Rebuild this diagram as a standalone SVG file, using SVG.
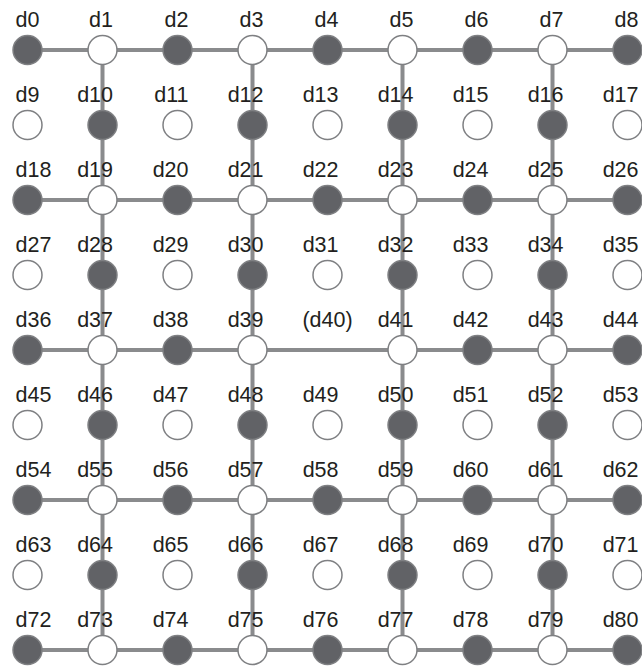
<svg xmlns="http://www.w3.org/2000/svg" width="642" height="668" viewBox="0 0 642 668">
<style>
.c line{stroke:#8a8b8d;stroke-width:4}
.f{fill:#616266;stroke:#7f8083;stroke-width:1.5}
.e{fill:#ffffff;stroke:#7f8083;stroke-width:1.5}
text{font-family:"Liberation Sans",Arial,sans-serif;font-size:21.5px;fill:#231f20}
.l{text-anchor:start}
.r{text-anchor:end}
.m{text-anchor:middle}
</style>
<rect width="642" height="668" fill="#ffffff"/>
<g id="connectors" class="c">
<line x1="27.5" y1="50" x2="102.5" y2="50"/><line x1="102.5" y1="50" x2="177.5" y2="50"/><line x1="177.5" y1="50" x2="252.5" y2="50"/><line x1="252.5" y1="50" x2="327.5" y2="50"/><line x1="327.5" y1="50" x2="402.5" y2="50"/><line x1="402.5" y1="50" x2="477.5" y2="50"/><line x1="477.5" y1="50" x2="552.5" y2="50"/><line x1="552.5" y1="50" x2="627.5" y2="50"/>
<line x1="27.5" y1="200" x2="102.5" y2="200"/><line x1="102.5" y1="200" x2="177.5" y2="200"/><line x1="177.5" y1="200" x2="252.5" y2="200"/><line x1="252.5" y1="200" x2="327.5" y2="200"/><line x1="327.5" y1="200" x2="402.5" y2="200"/><line x1="402.5" y1="200" x2="477.5" y2="200"/><line x1="477.5" y1="200" x2="552.5" y2="200"/><line x1="552.5" y1="200" x2="627.5" y2="200"/>
<line x1="27.5" y1="350" x2="102.5" y2="350"/><line x1="102.5" y1="350" x2="177.5" y2="350"/><line x1="177.5" y1="350" x2="252.5" y2="350"/><line x1="252.5" y1="350" x2="402.5" y2="350"/><line x1="402.5" y1="350" x2="477.5" y2="350"/><line x1="477.5" y1="350" x2="552.5" y2="350"/><line x1="552.5" y1="350" x2="627.5" y2="350"/>
<line x1="27.5" y1="500" x2="102.5" y2="500"/><line x1="102.5" y1="500" x2="177.5" y2="500"/><line x1="177.5" y1="500" x2="252.5" y2="500"/><line x1="252.5" y1="500" x2="327.5" y2="500"/><line x1="327.5" y1="500" x2="402.5" y2="500"/><line x1="402.5" y1="500" x2="477.5" y2="500"/><line x1="477.5" y1="500" x2="552.5" y2="500"/><line x1="552.5" y1="500" x2="627.5" y2="500"/>
<line x1="27.5" y1="650" x2="102.5" y2="650"/><line x1="102.5" y1="650" x2="177.5" y2="650"/><line x1="177.5" y1="650" x2="252.5" y2="650"/><line x1="252.5" y1="650" x2="327.5" y2="650"/><line x1="327.5" y1="650" x2="402.5" y2="650"/><line x1="402.5" y1="650" x2="477.5" y2="650"/><line x1="477.5" y1="650" x2="552.5" y2="650"/><line x1="552.5" y1="650" x2="627.5" y2="650"/>
<line x1="102.5" y1="50" x2="102.5" y2="125"/><line x1="102.5" y1="125" x2="102.5" y2="200"/><line x1="102.5" y1="200" x2="102.5" y2="275"/><line x1="102.5" y1="275" x2="102.5" y2="350"/><line x1="102.5" y1="350" x2="102.5" y2="425"/><line x1="102.5" y1="425" x2="102.5" y2="500"/><line x1="102.5" y1="500" x2="102.5" y2="575"/><line x1="102.5" y1="575" x2="102.5" y2="650"/>
<line x1="252.5" y1="50" x2="252.5" y2="125"/><line x1="252.5" y1="125" x2="252.5" y2="200"/><line x1="252.5" y1="200" x2="252.5" y2="275"/><line x1="252.5" y1="275" x2="252.5" y2="350"/><line x1="252.5" y1="350" x2="252.5" y2="425"/><line x1="252.5" y1="425" x2="252.5" y2="500"/><line x1="252.5" y1="500" x2="252.5" y2="575"/><line x1="252.5" y1="575" x2="252.5" y2="650"/>
<line x1="402.5" y1="50" x2="402.5" y2="125"/><line x1="402.5" y1="125" x2="402.5" y2="200"/><line x1="402.5" y1="200" x2="402.5" y2="275"/><line x1="402.5" y1="275" x2="402.5" y2="350"/><line x1="402.5" y1="350" x2="402.5" y2="425"/><line x1="402.5" y1="425" x2="402.5" y2="500"/><line x1="402.5" y1="500" x2="402.5" y2="575"/><line x1="402.5" y1="575" x2="402.5" y2="650"/>
<line x1="552.5" y1="50" x2="552.5" y2="125"/><line x1="552.5" y1="125" x2="552.5" y2="200"/><line x1="552.5" y1="200" x2="552.5" y2="275"/><line x1="552.5" y1="275" x2="552.5" y2="350"/><line x1="552.5" y1="350" x2="552.5" y2="425"/><line x1="552.5" y1="425" x2="552.5" y2="500"/><line x1="552.5" y1="500" x2="552.5" y2="575"/><line x1="552.5" y1="575" x2="552.5" y2="650"/>
</g>
<g id="nodes">
<g id="d0" transform="translate(27.5,50)"><circle class="f" r="14.5"/><text class="l" x="-12" y="-23">d0</text></g>
<g id="d1" transform="translate(102.5,50)"><circle class="e" r="14.5"/><text class="r" x="10.5" y="-23">d1</text></g>
<g id="d2" transform="translate(177.5,50)"><circle class="f" r="14.5"/><text class="r" x="11" y="-23">d2</text></g>
<g id="d3" transform="translate(252.5,50)"><circle class="e" r="14.5"/><text class="r" x="11" y="-23">d3</text></g>
<g id="d4" transform="translate(327.5,50)"><circle class="f" r="14.5"/><text class="r" x="11" y="-23">d4</text></g>
<g id="d5" transform="translate(402.5,50)"><circle class="e" r="14.5"/><text class="r" x="11" y="-23">d5</text></g>
<g id="d6" transform="translate(477.5,50)"><circle class="f" r="14.5"/><text class="r" x="11" y="-23">d6</text></g>
<g id="d7" transform="translate(552.5,50)"><circle class="e" r="14.5"/><text class="r" x="11" y="-23">d7</text></g>
<g id="d8" transform="translate(627.5,50)"><circle class="f" r="14.5"/><text class="r" x="11" y="-23">d8</text></g>
<g id="d9" transform="translate(27.5,125)"><circle class="e" r="14.5"/><text class="l" x="-12" y="-23">d9</text></g>
<g id="d10" transform="translate(102.5,125)"><circle class="f" r="14.5"/><text class="r" x="10.5" y="-23">d10</text></g>
<g id="d11" transform="translate(177.5,125)"><circle class="e" r="14.5"/><text class="r" x="11" y="-23">d11</text></g>
<g id="d12" transform="translate(252.5,125)"><circle class="f" r="14.5"/><text class="r" x="11" y="-23">d12</text></g>
<g id="d13" transform="translate(327.5,125)"><circle class="e" r="14.5"/><text class="r" x="11" y="-23">d13</text></g>
<g id="d14" transform="translate(402.5,125)"><circle class="f" r="14.5"/><text class="r" x="11" y="-23">d14</text></g>
<g id="d15" transform="translate(477.5,125)"><circle class="e" r="14.5"/><text class="r" x="11" y="-23">d15</text></g>
<g id="d16" transform="translate(552.5,125)"><circle class="f" r="14.5"/><text class="r" x="11" y="-23">d16</text></g>
<g id="d17" transform="translate(627.5,125)"><circle class="e" r="14.5"/><text class="r" x="11" y="-23">d17</text></g>
<g id="d18" transform="translate(27.5,200)"><circle class="f" r="14.5"/><text class="l" x="-12" y="-23">d18</text></g>
<g id="d19" transform="translate(102.5,200)"><circle class="e" r="14.5"/><text class="r" x="10.5" y="-23">d19</text></g>
<g id="d20" transform="translate(177.5,200)"><circle class="f" r="14.5"/><text class="r" x="11" y="-23">d20</text></g>
<g id="d21" transform="translate(252.5,200)"><circle class="e" r="14.5"/><text class="r" x="11" y="-23">d21</text></g>
<g id="d22" transform="translate(327.5,200)"><circle class="f" r="14.5"/><text class="r" x="11" y="-23">d22</text></g>
<g id="d23" transform="translate(402.5,200)"><circle class="e" r="14.5"/><text class="r" x="11" y="-23">d23</text></g>
<g id="d24" transform="translate(477.5,200)"><circle class="f" r="14.5"/><text class="r" x="11" y="-23">d24</text></g>
<g id="d25" transform="translate(552.5,200)"><circle class="e" r="14.5"/><text class="r" x="11" y="-23">d25</text></g>
<g id="d26" transform="translate(627.5,200)"><circle class="f" r="14.5"/><text class="r" x="11" y="-23">d26</text></g>
<g id="d27" transform="translate(27.5,275)"><circle class="e" r="14.5"/><text class="l" x="-12" y="-23">d27</text></g>
<g id="d28" transform="translate(102.5,275)"><circle class="f" r="14.5"/><text class="r" x="10.5" y="-23">d28</text></g>
<g id="d29" transform="translate(177.5,275)"><circle class="e" r="14.5"/><text class="r" x="11" y="-23">d29</text></g>
<g id="d30" transform="translate(252.5,275)"><circle class="f" r="14.5"/><text class="r" x="11" y="-23">d30</text></g>
<g id="d31" transform="translate(327.5,275)"><circle class="e" r="14.5"/><text class="r" x="11" y="-23">d31</text></g>
<g id="d32" transform="translate(402.5,275)"><circle class="f" r="14.5"/><text class="r" x="11" y="-23">d32</text></g>
<g id="d33" transform="translate(477.5,275)"><circle class="e" r="14.5"/><text class="r" x="11" y="-23">d33</text></g>
<g id="d34" transform="translate(552.5,275)"><circle class="f" r="14.5"/><text class="r" x="11" y="-23">d34</text></g>
<g id="d35" transform="translate(627.5,275)"><circle class="e" r="14.5"/><text class="r" x="11" y="-23">d35</text></g>
<g id="d36" transform="translate(27.5,350)"><circle class="f" r="14.5"/><text class="l" x="-12" y="-23">d36</text></g>
<g id="d37" transform="translate(102.5,350)"><circle class="e" r="14.5"/><text class="r" x="10.5" y="-23">d37</text></g>
<g id="d38" transform="translate(177.5,350)"><circle class="f" r="14.5"/><text class="r" x="11" y="-23">d38</text></g>
<g id="d39" transform="translate(252.5,350)"><circle class="e" r="14.5"/><text class="r" x="11" y="-23">d39</text></g>
<g id="d40" transform="translate(327.5,350)"><text class="m" x="0" y="-23">(d40)</text></g>
<g id="d41" transform="translate(402.5,350)"><circle class="e" r="14.5"/><text class="r" x="11" y="-23">d41</text></g>
<g id="d42" transform="translate(477.5,350)"><circle class="f" r="14.5"/><text class="r" x="11" y="-23">d42</text></g>
<g id="d43" transform="translate(552.5,350)"><circle class="e" r="14.5"/><text class="r" x="11" y="-23">d43</text></g>
<g id="d44" transform="translate(627.5,350)"><circle class="f" r="14.5"/><text class="r" x="11" y="-23">d44</text></g>
<g id="d45" transform="translate(27.5,425)"><circle class="e" r="14.5"/><text class="l" x="-12" y="-23">d45</text></g>
<g id="d46" transform="translate(102.5,425)"><circle class="f" r="14.5"/><text class="r" x="10.5" y="-23">d46</text></g>
<g id="d47" transform="translate(177.5,425)"><circle class="e" r="14.5"/><text class="r" x="11" y="-23">d47</text></g>
<g id="d48" transform="translate(252.5,425)"><circle class="f" r="14.5"/><text class="r" x="11" y="-23">d48</text></g>
<g id="d49" transform="translate(327.5,425)"><circle class="e" r="14.5"/><text class="r" x="11" y="-23">d49</text></g>
<g id="d50" transform="translate(402.5,425)"><circle class="f" r="14.5"/><text class="r" x="11" y="-23">d50</text></g>
<g id="d51" transform="translate(477.5,425)"><circle class="e" r="14.5"/><text class="r" x="11" y="-23">d51</text></g>
<g id="d52" transform="translate(552.5,425)"><circle class="f" r="14.5"/><text class="r" x="11" y="-23">d52</text></g>
<g id="d53" transform="translate(627.5,425)"><circle class="e" r="14.5"/><text class="r" x="11" y="-23">d53</text></g>
<g id="d54" transform="translate(27.5,500)"><circle class="f" r="14.5"/><text class="l" x="-12" y="-23">d54</text></g>
<g id="d55" transform="translate(102.5,500)"><circle class="e" r="14.5"/><text class="r" x="10.5" y="-23">d55</text></g>
<g id="d56" transform="translate(177.5,500)"><circle class="f" r="14.5"/><text class="r" x="11" y="-23">d56</text></g>
<g id="d57" transform="translate(252.5,500)"><circle class="e" r="14.5"/><text class="r" x="11" y="-23">d57</text></g>
<g id="d58" transform="translate(327.5,500)"><circle class="f" r="14.5"/><text class="r" x="11" y="-23">d58</text></g>
<g id="d59" transform="translate(402.5,500)"><circle class="e" r="14.5"/><text class="r" x="11" y="-23">d59</text></g>
<g id="d60" transform="translate(477.5,500)"><circle class="f" r="14.5"/><text class="r" x="11" y="-23">d60</text></g>
<g id="d61" transform="translate(552.5,500)"><circle class="e" r="14.5"/><text class="r" x="11" y="-23">d61</text></g>
<g id="d62" transform="translate(627.5,500)"><circle class="f" r="14.5"/><text class="r" x="11" y="-23">d62</text></g>
<g id="d63" transform="translate(27.5,575)"><circle class="e" r="14.5"/><text class="l" x="-12" y="-23">d63</text></g>
<g id="d64" transform="translate(102.5,575)"><circle class="f" r="14.5"/><text class="r" x="10.5" y="-23">d64</text></g>
<g id="d65" transform="translate(177.5,575)"><circle class="e" r="14.5"/><text class="r" x="11" y="-23">d65</text></g>
<g id="d66" transform="translate(252.5,575)"><circle class="f" r="14.5"/><text class="r" x="11" y="-23">d66</text></g>
<g id="d67" transform="translate(327.5,575)"><circle class="e" r="14.5"/><text class="r" x="11" y="-23">d67</text></g>
<g id="d68" transform="translate(402.5,575)"><circle class="f" r="14.5"/><text class="r" x="11" y="-23">d68</text></g>
<g id="d69" transform="translate(477.5,575)"><circle class="e" r="14.5"/><text class="r" x="11" y="-23">d69</text></g>
<g id="d70" transform="translate(552.5,575)"><circle class="f" r="14.5"/><text class="r" x="11" y="-23">d70</text></g>
<g id="d71" transform="translate(627.5,575)"><circle class="e" r="14.5"/><text class="r" x="11" y="-23">d71</text></g>
<g id="d72" transform="translate(27.5,650)"><circle class="f" r="14.5"/><text class="l" x="-12" y="-23">d72</text></g>
<g id="d73" transform="translate(102.5,650)"><circle class="e" r="14.5"/><text class="r" x="10.5" y="-23">d73</text></g>
<g id="d74" transform="translate(177.5,650)"><circle class="f" r="14.5"/><text class="r" x="11" y="-23">d74</text></g>
<g id="d75" transform="translate(252.5,650)"><circle class="e" r="14.5"/><text class="r" x="11" y="-23">d75</text></g>
<g id="d76" transform="translate(327.5,650)"><circle class="f" r="14.5"/><text class="r" x="11" y="-23">d76</text></g>
<g id="d77" transform="translate(402.5,650)"><circle class="e" r="14.5"/><text class="r" x="11" y="-23">d77</text></g>
<g id="d78" transform="translate(477.5,650)"><circle class="f" r="14.5"/><text class="r" x="11" y="-23">d78</text></g>
<g id="d79" transform="translate(552.5,650)"><circle class="e" r="14.5"/><text class="r" x="11" y="-23">d79</text></g>
<g id="d80" transform="translate(627.5,650)"><circle class="f" r="14.5"/><text class="r" x="11" y="-23">d80</text></g>
</g>
</svg>
